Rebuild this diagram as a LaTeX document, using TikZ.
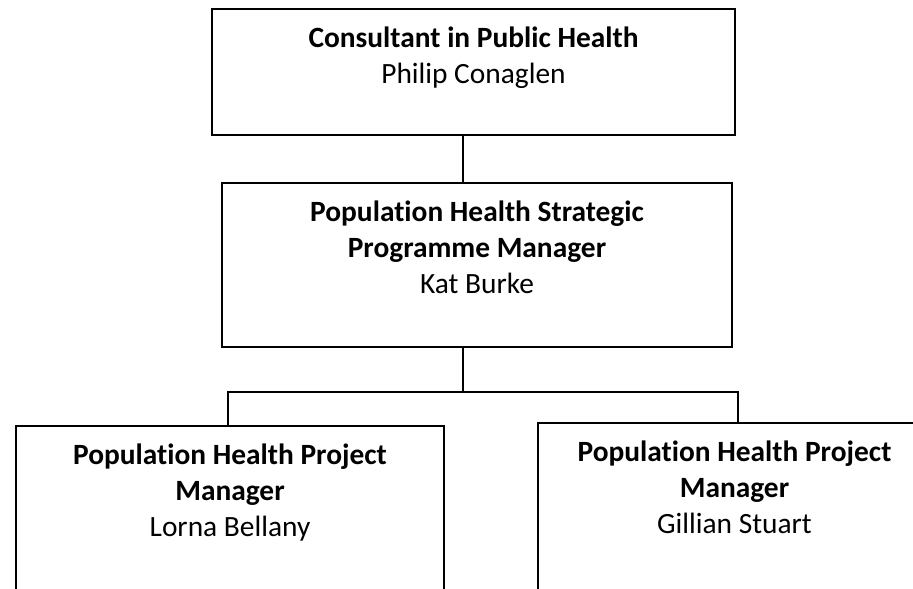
\documentclass[tikz,border=0pt]{standalone}
\usepackage{fontspec}
\setmainfont{Carlito}[Ligatures={NoCommon,NoContextual,NoRare}, Contextuals=NoAlternate]
\usetikzlibrary{positioning}

\begin{document}
\begin{tikzpicture}[x=1pt, y=-1pt, line width=1.3pt, node distance=18pt,
  post/.style={draw, rectangle, inner sep=0pt},
  role/.style={align=center, anchor=north, inner sep=0pt, font=\fontsize{29.4}{36}\selectfont}]
  \useasboundingbox (0,0) rectangle (913,589);
  \clip (0,0) rectangle (913,589);
  % boxes
  \node[post, minimum width=523pt, minimum height=126pt] (top) at (473.5,72) {};
  \node[post, minimum width=510pt, minimum height=164pt] (mid) at (477,265) {};
  \node[post, minimum width=428pt, minimum height=180pt] (left) at (230,516) {};
  \node[post, minimum width=393pt, minimum height=183pt] (right) at (734.5,514.5) {};
  % texts
  \node[role, below=of top.north] (topT) {\textbf{Consultant in Public Health}\\Philip Conaglen};
  \node[role, below=of mid.north] (midT) {\textbf{Population Health Strategic}\\\textbf{Programme Manager}\\Kat Burke};
  \node[role, below=of left.north] (leftT) {\textbf{Population Health Project}\\\textbf{Manager}\\Lorna Bellany};
  \node[role, below=of right.north] (rightT) {\textbf{Population Health Project}\\\textbf{Manager}\\Gillian Stuart};
  % connectors
  \coordinate (spine) at (463,392);
  \coordinate (busL) at (228,392);
  \coordinate (busR) at (738,392);
  \draw (top.south -| spine) -- (mid.north -| spine);
  \draw (mid.south -| spine) -- (spine);
  \draw (busL |- left.north) -- (busL) -- (busR) -- (busR |- right.north);
\end{tikzpicture}
\end{document}
